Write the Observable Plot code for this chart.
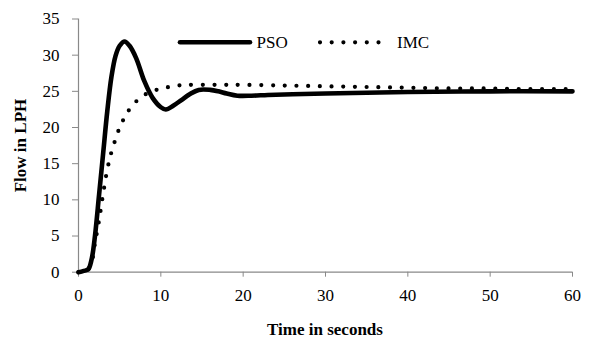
<!DOCTYPE html>
<html>
<head>
<meta charset="utf-8">
<script src="https://cdn.jsdelivr.net/npm/d3@7"></script>
<script src="https://cdn.jsdelivr.net/npm/@observablehq/plot@0.6"></script>
</head>
<body style="margin:0;background:#fff">
<div id="wrap" style="position:relative;width:589px;height:339px;font-family:'Times New Roman'">
  <div id="chart"></div>
  <svg id="legend" width="589" height="60" style="position:absolute;left:0;top:0"></svg>
  <div id="leg1" style="position:absolute;left:256.5px;top:34px;font-family:'Times New Roman';font-size:17px;line-height:17px;white-space:nowrap"></div>
  <div id="leg2" style="position:absolute;left:397px;top:34px;font-family:'Times New Roman';font-size:17px;line-height:17px;white-space:nowrap"></div>
  <div id="xlab" style="position:absolute;left:78px;width:494px;top:320.7px;text-align:center;font-family:'Times New Roman';font-weight:bold;font-size:17px;line-height:17px;white-space:nowrap">Time in seconds</div>
  <div id="ylab" style="position:absolute;left:-80px;width:200px;top:136.5px;text-align:center;transform:rotate(-90deg);font-family:'Times New Roman';font-weight:bold;font-size:17px;line-height:17px;white-space:nowrap">Flow in LPH</div>
</div>
<script>
// PSO response
const psoTime = [0, 1, 1.25, 1.65, 2, 2.5, 3, 3.5, 4, 4.5, 5, 5.6, 6.2, 7, 8, 9, 10, 10.6, 11.5, 12.5, 13.5, 14.6, 16, 17, 18, 19.3, 21, 23, 26, 30, 35, 40, 50, 60];
const psoFlow = [0, 0.3, 0.5, 2.1, 5.0, 10.7, 16.5, 22.3, 27.0, 29.9, 31.3, 31.9, 31.3, 29.6, 26.4, 24.1, 22.8, 22.5, 23.0, 23.8, 24.6, 25.2, 25.2, 25.0, 24.7, 24.4, 24.4, 24.5, 24.6, 24.7, 24.8, 24.9, 25.0, 25.0];
// IMC response
const imcTime = [0, 1, 1.5, 2, 2.5, 3, 3.5, 4, 4.5, 5, 5.5, 6, 7, 8, 9, 10, 11, 12, 13, 14, 16, 18, 20, 25, 30, 35, 40, 45, 50, 55, 60];
const imcFlow = [0, 0.3, 1.0, 4.0, 7.2, 10.9, 14.2, 16.6, 18.4, 20.0, 21.2, 22.2, 23.6, 24.5, 25.0, 25.4, 25.6, 25.8, 25.9, 25.9, 25.9, 25.9, 25.9, 25.8, 25.7, 25.6, 25.5, 25.4, 25.4, 25.3, 25.3];
// Axis ticks & labels
const xTicks = [0, 10, 20, 30, 40, 50, 60];
const yTicks = [0, 5, 10, 15, 20, 25, 30, 35];
const seriesNames = ["PSO", "IMC"];

const pso = psoTime.map((t, i) => ({t, v: psoFlow[i]}));
const imc = imcTime.map((t, i) => ({t, v: imcFlow[i]}));

const axisGray = "#898989";

document.getElementById("leg1").textContent = seriesNames[0];
document.getElementById("leg2").textContent = seriesNames[1];

const chart = Plot.plot({
  width: 589,
  height: 339,
  marginLeft: 78,
  marginRight: 17,
  marginTop: 18.5,
  marginBottom: 67.3,
  style: "font-family:'Times New Roman';font-size:17px;color:black;background:white",
  x: { domain: [0, 60] },
  y: { domain: [0, 35] },
  marks: [
    Plot.axisX({ ticks: xTicks, tickSize: 5, tickPadding: 12, stroke: axisGray, fill: "black", label: null, tickFormat: d => String(d) }),
    Plot.axisY({ ticks: yTicks, tickSize: 6, tickPadding: 13, stroke: axisGray, fill: "black", label: null, tickFormat: d => String(d) }),
    Plot.ruleY([0], { stroke: axisGray, strokeWidth: 1.2 }),
    Plot.ruleX([0], { stroke: axisGray, strokeWidth: 1.2 }),
    Plot.line(imc, { x: "t", y: "v", stroke: "black", strokeWidth: 4.2, strokeDasharray: "0 11.7", strokeLinecap: "round", curve: "catmull-rom" }),
    Plot.line(pso, { x: "t", y: "v", stroke: "black", strokeWidth: 4.6, strokeLinejoin: "round", curve: "catmull-rom" })
  ]
});
chart.setAttribute("font-family", "Times New Roman");
chart.querySelectorAll("text").forEach(t => t.setAttribute("style", "font-family:'Times New Roman'"));
document.getElementById("chart").appendChild(chart);

// Legend line samples
document.getElementById("legend").innerHTML = `
  <line x1="180" y1="42.3" x2="250" y2="42.3" stroke="black" stroke-width="4.6" stroke-linecap="round"/>
  <line x1="320" y1="42.3" x2="379" y2="42.3" stroke="black" stroke-width="4.2" stroke-linecap="round" stroke-dasharray="0 11.7"/>
`;
</script>
</body>
</html>
